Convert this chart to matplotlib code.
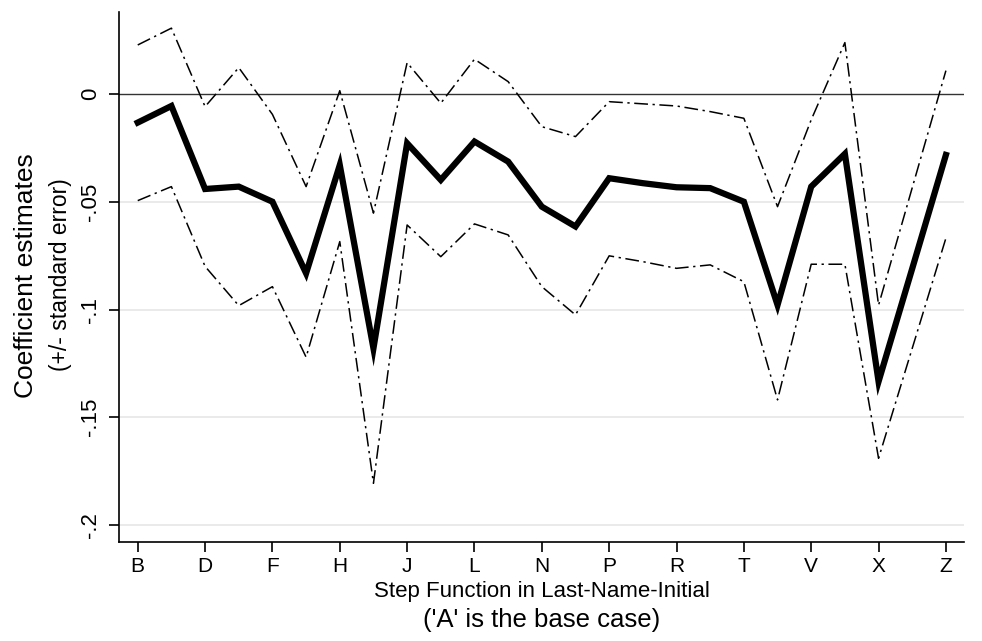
import numpy as np
import matplotlib
matplotlib.use("Agg")
from matplotlib import pyplot as plt

plt.rcParams['font.family'] = ['Liberation Sans', 'DejaVu Sans']

# 字母 B..Z（A 为基准组）
letters = list("BCDEFGHIJKLMNOPQRSTUVWXYZ")
coef = [-0.0133, -0.0056, -0.0441, -0.0430, -0.0500, -0.0832, -0.0330, -0.1180,
        -0.0229, -0.0399, -0.0221, -0.0314, -0.0523, -0.0615, -0.0391, -0.0414,
        -0.0433, -0.0437, -0.0500, -0.0979, -0.0430, -0.0278, -0.1334, -0.0810,
        -0.0283]
upper = [0.0227, 0.0305, -0.0059, 0.0122, -0.0095, -0.0430, 0.0015, -0.0553,
         0.0145, -0.0043, 0.0161, 0.0057, -0.0152, -0.0198, -0.0036, -0.0046,
         -0.0056, -0.0082, -0.0113, -0.0523, -0.0120, 0.0238, -0.0980, -0.0435,
         0.0108]
lower = [-0.0495, -0.0430, -0.0800, -0.0982, -0.0894, -0.1221, -0.0685, -0.1806,
         -0.0608, -0.0755, -0.0603, -0.0654, -0.0894, -0.1025, -0.0751, -0.0778,
         -0.0809, -0.0793, -0.0871, -0.1419, -0.0790, -0.0790, -0.1690, -0.1180,
         -0.0669]
yticks = [0, -0.05, -0.1, -0.15, -0.2]
ytick_labels = ["0", "-.05", "-.1", "-.15", "-.2"]

x = np.arange(len(letters))

fig = plt.figure(figsize=(9.82, 6.41), dpi=100)
ax = fig.add_axes([0.1215, 0.1549, 0.982 - 0.1215, 0.9813 - 0.1549])

for yv in yticks[1:]:
    ax.axhline(yv, color='#e6e6e6', lw=1.2, zorder=0)
ax.axhline(0, color='#333333', lw=1.0, zorder=1)

dd = (0, (9, 3, 1.5, 3))
ax.plot(x, upper, color='black', lw=1.1, linestyle=dd, zorder=2)
ax.plot(x, lower, color='black', lw=1.1, linestyle=dd, zorder=2)
ax.plot(x, coef, color='black', lw=4.5, solid_joinstyle='miter', zorder=3)

ax.set_xlim(-0.547, len(letters) - 1 + 0.547)
ax.set_ylim(-0.2077, 0.038)

ax.set_xticks(x[::2])
ax.set_xticklabels(letters[::2], fontsize=15)
ax.set_yticks(yticks)
ax.set_yticklabels(ytick_labels, fontsize=16, rotation=90, va='center')
ax.tick_params(direction='out', length=7, width=1.2, color='black')
ax.tick_params(axis='x', pad=4)
ax.tick_params(axis='y', pad=6)

for s in ['top', 'right']:
    ax.spines[s].set_visible(False)
for s in ['left', 'bottom']:
    ax.spines[s].set_linewidth(1.2)

fig.text(26 / 982, 1 - 276 / 641, "Coefficient estimates", rotation=90,
         ha='center', va='center', fontsize=19)
fig.text(61 / 982, 1 - 275 / 641, "(+/- standard error)", rotation=90,
         ha='center', va='center', fontsize=16.5)
fig.text(542 / 982, 1 - 597 / 641, "Step Function in Last-Name-Initial",
         ha='center', va='baseline', fontsize=16)
fig.text(542 / 982, 1 - 627 / 641, "('A' is the base case)",
         ha='center', va='baseline', fontsize=18.5)

fig.savefig("out.png", dpi=100)
